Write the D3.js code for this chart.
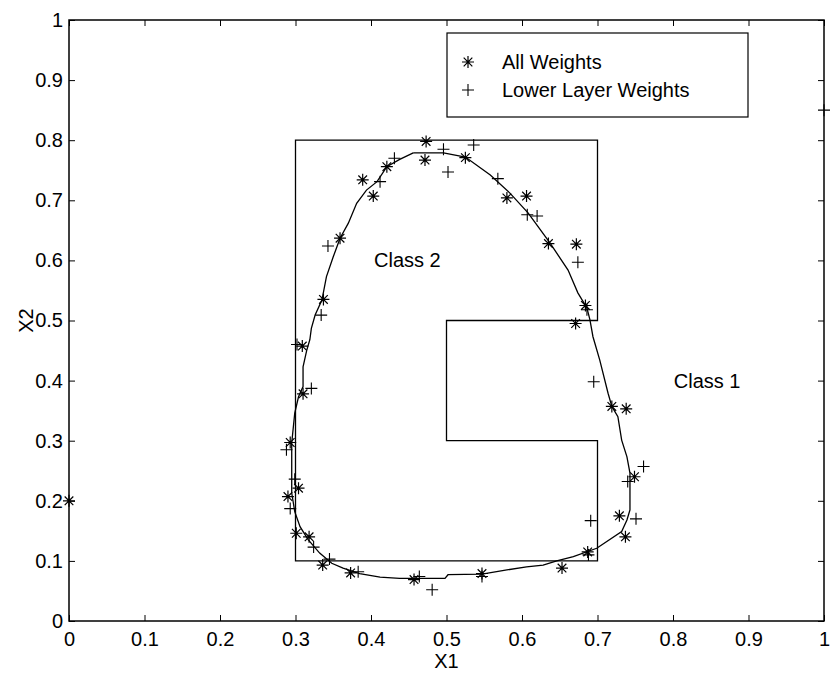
<!DOCTYPE html>
<html>
<head>
<meta charset="utf-8">
<script src="https://cdn.jsdelivr.net/npm/d3@7"></script>
<style>
  body { margin: 0; background: #fff; }
  svg text { font-family: "Liberation Sans", Arial, sans-serif; fill: #000; }
</style>
</head>
<body>
<div id="chart"></div>
<script>
// values
const ticks = [0, 0.1, 0.2, 0.3, 0.4, 0.5, 0.6, 0.7, 0.8, 0.9, 1];

// class 2 region outline (rectangle with notch)
const regionX = [0.3, 0.7, 0.7, 0.5, 0.5, 0.7, 0.7, 0.3];
const regionY = [0.1, 0.1, 0.3, 0.3, 0.5, 0.5, 0.8, 0.8];

// learned decision boundary
const boundaryX = [0.456, 0.496, 0.525, 0.558, 0.584, 0.608, 0.637, 0.661, 0.674, 0.686, 0.690, 0.694, 0.703, 0.714, 0.719, 0.727, 0.732, 0.739, 0.743, 0.743, 0.739, 0.732, 0.699, 0.668, 0.646, 0.628, 0.606, 0.580, 0.547, 0.502, 0.498, 0.438, 0.412, 0.385, 0.363, 0.348, 0.332, 0.317, 0.306, 0.299, 0.295, 0.295, 0.299, 0.304, 0.310, 0.310, 0.315, 0.319, 0.321, 0.326, 0.335, 0.341, 0.350, 0.359, 0.370, 0.381, 0.394, 0.408, 0.421, 0.438, 0.456];
const boundaryY = [0.779, 0.779, 0.772, 0.742, 0.712, 0.679, 0.629, 0.584, 0.546, 0.521, 0.501, 0.473, 0.434, 0.379, 0.357, 0.340, 0.301, 0.273, 0.246, 0.185, 0.168, 0.149, 0.121, 0.107, 0.100, 0.093, 0.090, 0.085, 0.078, 0.077, 0.071, 0.071, 0.073, 0.079, 0.088, 0.096, 0.113, 0.135, 0.157, 0.182, 0.213, 0.296, 0.346, 0.373, 0.390, 0.423, 0.451, 0.468, 0.487, 0.509, 0.534, 0.573, 0.606, 0.637, 0.662, 0.695, 0.717, 0.731, 0.756, 0.768, 0.779];

// "All Weights" (asterisks)
const allX = [0.473, 0.4715, 0.525, 0.421, 0.389, 0.403, 0.359, 0.337, 0.580, 0.606, 0.635, 0.672, 0.684, 0.671, 0.719, 0.738, 0.749, 0.729, 0.737, 0.687, 0.653, 0.547, 0.457, 0.373, 0.336, 0.318, 0.301, 0.290, 0.304, 0.293, 0.310, 0.309, 0.0];
const allY = [0.798, 0.767, 0.771, 0.756, 0.734, 0.707, 0.637, 0.535, 0.704, 0.707, 0.628, 0.627, 0.525, 0.495, 0.357, 0.353, 0.240, 0.175, 0.140, 0.115, 0.088, 0.079, 0.069, 0.080, 0.093, 0.140, 0.146, 0.207, 0.221, 0.297, 0.378, 0.4575, 0.2];

// "Lower Layer Weights" (plus signs)
const lowX = [0.496, 0.536, 0.502, 0.431, 0.412, 0.343, 0.568, 0.607, 0.620, 0.674, 0.686, 0.695, 0.761, 0.740, 0.751, 0.691, 0.688, 0.547, 0.464, 0.481, 0.383, 0.345, 0.324, 0.293, 0.299, 0.288, 0.321, 0.302, 0.334, 1.0];
const lowY = [0.785, 0.792, 0.747, 0.770, 0.731, 0.624, 0.736, 0.676, 0.674, 0.597, 0.518, 0.398, 0.257, 0.232, 0.170, 0.167, 0.110, 0.074, 0.074, 0.052, 0.082, 0.103, 0.123, 0.187, 0.236, 0.285, 0.387, 0.460, 0.509, 0.850];

const legendLabels = ["All Weights", "Lower Layer Weights"];

const width = 830, height = 677;
const margin = {left: 69, right: 6, top: 20, bottom: 56};
const fontSize = "20px";

const svg = d3.select("#chart").append("svg")
    .attr("width", width)
    .attr("height", height);

const x = d3.scaleLinear().domain([0, 1]).range([margin.left, width - margin.right]);
const y = d3.scaleLinear().domain([0, 1]).range([height - margin.bottom, margin.top]);

const tickLen = 6;

// axes with inward ticks on all four sides
function styleAxis(g) {
    g.select(".domain").remove();
    g.selectAll("line").attr("stroke", "#000");
    g.selectAll("text").style("font-size", fontSize);
}
svg.append("g")
    .attr("transform", `translate(0,${y(0)})`)
    .call(d3.axisBottom(x).tickValues(ticks).tickFormat(d3.format("")).tickSizeInner(-tickLen).tickPadding(11))
    .call(styleAxis);
svg.append("g")
    .attr("transform", `translate(${x(0)},0)`)
    .call(d3.axisLeft(y).tickValues(ticks).tickFormat(d3.format("")).tickSizeInner(-tickLen).tickPadding(6))
    .call(styleAxis);
svg.append("g")
    .attr("transform", `translate(0,${y(1)})`)
    .call(d3.axisTop(x).tickValues(ticks).tickFormat("").tickSizeInner(-tickLen))
    .call(styleAxis);
svg.append("g")
    .attr("transform", `translate(${x(1)},0)`)
    .call(d3.axisRight(y).tickValues(ticks).tickFormat("").tickSizeInner(-tickLen))
    .call(styleAxis);

svg.append("rect")
    .attr("x", x(0)).attr("y", y(1))
    .attr("width", x(1) - x(0)).attr("height", y(0) - y(1))
    .attr("fill", "none").attr("stroke", "#000").attr("stroke-width", 1.5);

// region outline
const region = regionX.map((v, i) => [v, regionY[i]]);
svg.append("path")
    .attr("d", d3.line().x(d => x(d[0])).y(d => y(d[1]))(region) + "Z")
    .attr("fill", "none").attr("stroke", "#000").attr("stroke-width", 1.3);

// boundary
const boundary = boundaryX.map((v, i) => [v, boundaryY[i]]);
svg.append("path")
    .attr("d", d3.line().x(d => x(d[0])).y(d => y(d[1]))(boundary))
    .attr("fill", "none").attr("stroke", "#000").attr("stroke-width", 1.3);

// markers
const s = 6;
function star(g) {
    g.append("path")
        .attr("d", `M${-s},0H${s}M0,${-s}V${s}M${-s*0.72},${-s*0.72}L${s*0.72},${s*0.72}M${-s*0.72},${s*0.72}L${s*0.72},${-s*0.72}`)
        .attr("stroke", "#000").attr("stroke-width", 1.2).attr("fill", "none");
}
function plus(g) {
    g.append("path")
        .attr("d", `M${-s},0H${s}M0,${-s}V${s}`)
        .attr("stroke", "#000").attr("stroke-width", 1.1).attr("fill", "none");
}

svg.append("g").selectAll("g")
    .data(allX.map((v, i) => [v, allY[i]]))
    .join("g")
    .attr("transform", d => `translate(${x(d[0])},${y(d[1])})`)
    .each(function () { star(d3.select(this)); });

svg.append("g").selectAll("g")
    .data(lowX.map((v, i) => [v, lowY[i]]))
    .join("g")
    .attr("transform", d => `translate(${x(d[0])},${y(d[1])})`)
    .each(function () { plus(d3.select(this)); });

// region labels
svg.append("text").attr("x", x(0.404)).attr("y", y(0.6)).attr("dy", "0.35em")
    .style("font-size", fontSize).text("Class 2");
svg.append("text").attr("x", x(0.801)).attr("y", y(0.4)).attr("dy", "0.35em")
    .style("font-size", fontSize).text("Class 1");

// axis titles
svg.append("text").attr("x", x(0.5)).attr("y", height - 9)
    .attr("text-anchor", "middle").style("font-size", fontSize).text("X1");
svg.append("text")
    .attr("transform", `translate(33,${y(0.5)}) rotate(-90)`)
    .attr("text-anchor", "middle").style("font-size", fontSize).text("X2");

// legend
const legend = svg.append("g").attr("transform", "translate(447,33)");
legend.append("rect").attr("width", 301).attr("height", 84)
    .attr("fill", "#fff").attr("stroke", "#000").attr("stroke-width", 1.2);
legendLabels.forEach((t, i) => {
    const row = legend.append("g").attr("transform", `translate(21,${29 + i * 28})`);
    if (i === 0) star(row); else plus(row);
    row.append("text").attr("x", 34).attr("dy", "0.35em").style("font-size", fontSize).text(t);
});
</script>
</body>
</html>
